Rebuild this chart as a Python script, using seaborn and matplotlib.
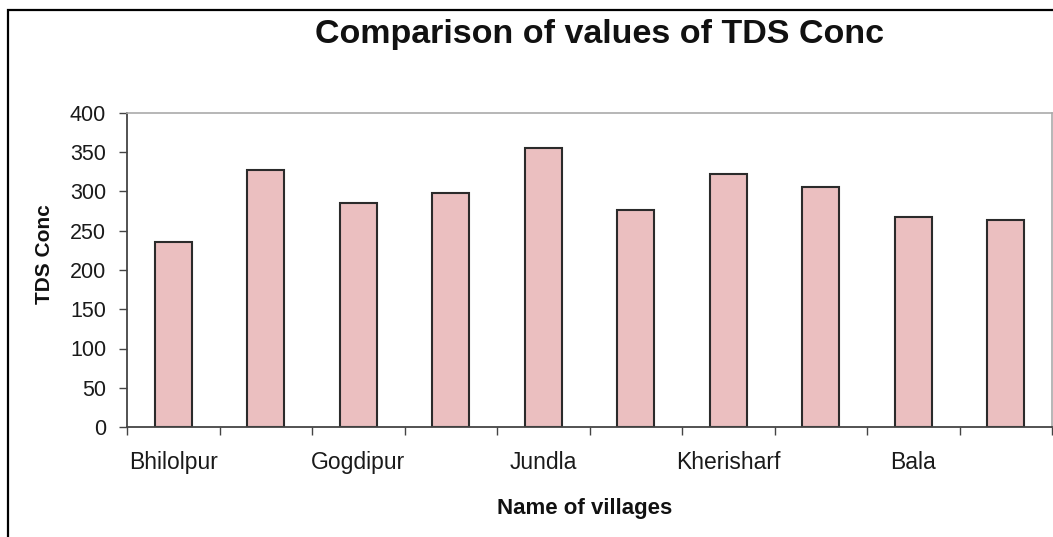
import numpy as np
import pandas as pd
import matplotlib
matplotlib.use("Agg")
import matplotlib.pyplot as plt
import seaborn as sns
from matplotlib.patches import Rectangle

# Data (only every other village name is printed)
villages = ["Bhilolpur", "", "Gogdipur", "", "Jundla", "", "Kherisharf", "", "Bala", ""]
tds_conc = [236, 327, 285, 298, 355, 276, 322, 306, 268, 264]

sns.set_theme(style="white")
plt.rcParams["font.family"] = ["Liberation Sans", "DejaVu Sans"]

df = pd.DataFrame({"idx": np.arange(len(tds_conc)), "TDS": tds_conc})

W, H = 1053, 537
x0, x1, y_top, y_bot = 127, 1052, 113, 427

fig = plt.figure(figsize=(W / 100, H / 100), dpi=100)
ax = fig.add_axes([x0 / W, 1 - y_bot / H, (x1 - x0) / W, (y_bot - y_top) / H])

sns.barplot(data=df, x="idx", y="TDS", ax=ax, color="#EBBFC0",
            edgecolor="#2b2b2b", linewidth=1.5, width=0.4, saturation=1)

ax.set_xlim(-0.5, len(tds_conc) - 0.5)
ax.set_ylim(0, 400)
ax.set_yticks(range(0, 401, 50))

# Excel-style category axis: ticks between categories, labels centred
ax.set_xticks(np.arange(-0.5, len(tds_conc)), labels=[""] * (len(tds_conc) + 1))
ax.set_xticks(np.arange(len(tds_conc)), labels=villages, minor=True)
ax.tick_params(axis="x", which="major", length=6, width=1, color="#444",
               direction="out", bottom=True)
ax.tick_params(axis="x", which="minor", length=0, pad=17, labelsize=16.5,
               labelcolor="#1a1a1a")
ax.tick_params(axis="y", length=6, width=1, color="#444", direction="out",
               left=True, labelsize=15.5, labelcolor="#1a1a1a", pad=9)

for side in ["left", "bottom"]:
    ax.spines[side].set_color("#444")
    ax.spines[side].set_linewidth(1.3)
for side in ["top", "right"]:
    ax.spines[side].set_color("#aaaaaa")
    ax.spines[side].set_linewidth(1.2)

ax.set_xlabel("Name of villages", fontsize=16, fontweight="bold", color="#111")
ax.set_ylabel("TDS Conc", fontsize=15, fontweight="bold", color="#111")
ax.xaxis.set_label_coords((585 - x0) / (x1 - x0), -(498 - y_bot) / (y_bot - y_top))
ax.yaxis.set_label_coords(-(x0 - 54) / (x1 - x0), (y_bot - 254) / (y_bot - y_top))

fig.text(600 / W, 1 - 35 / H, "Comparison of values of TDS Conc",
         ha="center", va="center", fontsize=24.5, fontweight="bold", color="#111")

# outer chart frame (left and top edges visible)
fig.patches.append(Rectangle((8 / W, -0.1), 1.2, 1 - 10 / H + 0.1,
                             transform=fig.transFigure, fill=False,
                             edgecolor="black", linewidth=1.6))

fig.savefig("out.png", dpi=100)
